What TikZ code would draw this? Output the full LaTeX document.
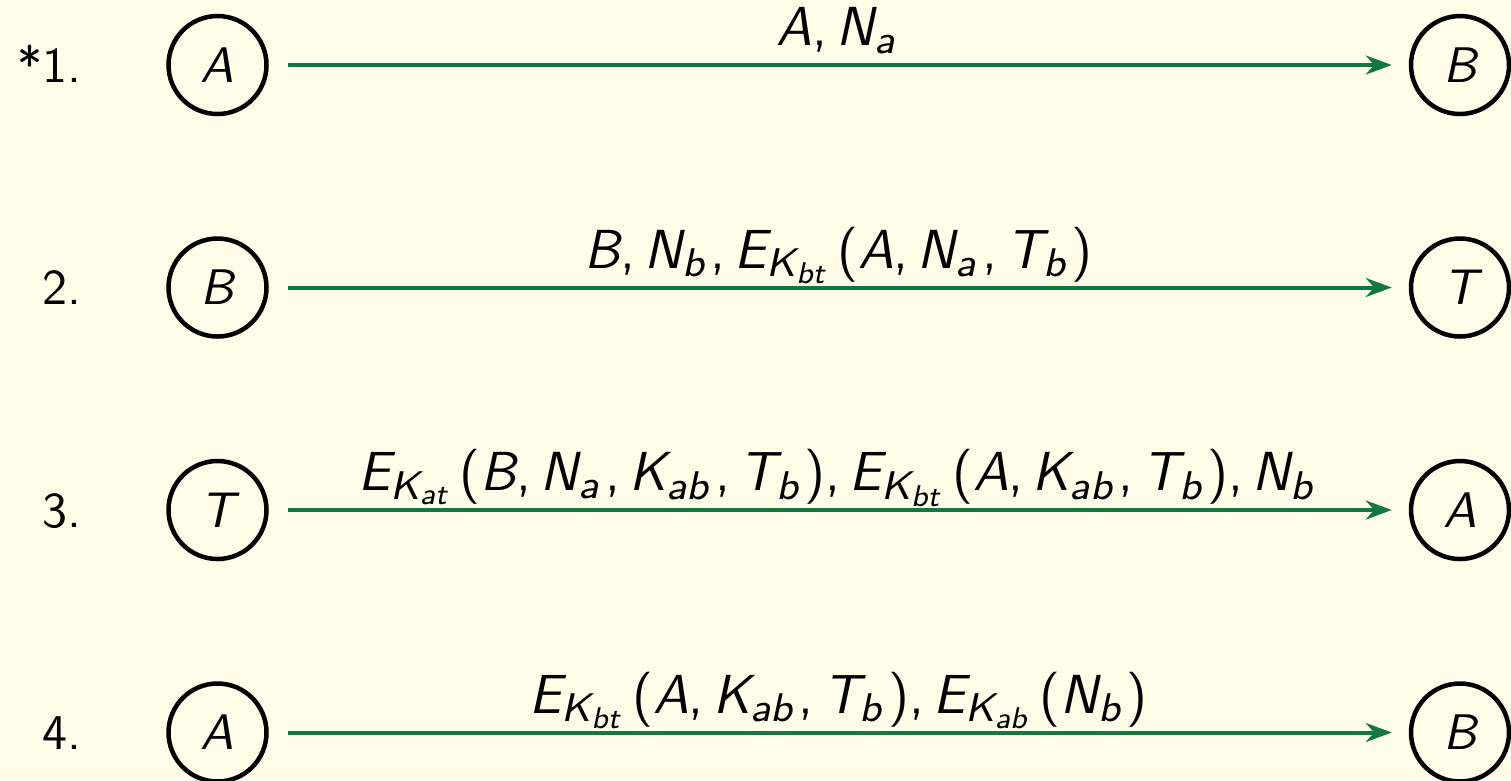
\documentclass[tikz,border=0pt]{standalone}
\usepackage{tikz}
\usetikzlibrary{arrows.meta,positioning}
\definecolor{paper}{HTML}{FFFDE8}
\definecolor{msggreen}{HTML}{12783F}
% sans-serif math, as on a slide
\SetSymbolFont{operators}{normal}{TU}{lmss}{m}{n}
\SetSymbolFont{letters}{normal}{TU}{lmss}{m}{sl}
\DeclareMathSymbol{,}{\mathpunct}{operators}{`,}
\DeclareMathSizes{11}{11}{8}{6}
\scriptspace=1.3pt
\tikzset{
  principal/.style={
    circle, draw=black, line width=0.9pt,
    minimum size=19.6pt, inner sep=0pt,
    font=\sffamily
  },
  msgarrow/.style={
    -{Stealth[length=5.2pt,width=3.8pt]}, thick, color=msggreen,
    shorten <=3.8pt, shorten >=3.4pt
  },
  msglabel/.style={midway, anchor=base, yshift=3.9pt, text=black},
  steplabel/.style={font=\sffamily, inner sep=0pt},
}
\begin{document}
\begin{tikzpicture}[font=\fontsize{11}{13.6}\selectfont]
\fill[paper] (0,0) rectangle (302.2pt,-156pt);
\useasboundingbox (0,0) rectangle (302.2pt,-156pt);
\node[principal] (s1-from) at (43.5pt,-13pt) {$A$};
\node[principal] (s1-to) at (292pt,-13pt) {$B$};
\node[principal] (s2-from) at (43.5pt,-57.5pt) {$B$};
\node[principal] (s2-to) at (292pt,-57.5pt) {$T$};
\node[principal] (s3-from) at (43.5pt,-102pt) {$T$};
\node[principal] (s3-to) at (292pt,-102pt) {$A$};
\node[principal] (s4-from) at (43.5pt,-146.5pt) {$A$};
\node[principal] (s4-to) at (292pt,-146.5pt) {$B$};
\node[steplabel, base left=16.8pt of s1-from] (s1-num) {*1.};
\node[steplabel, base left=16.8pt of s2-from] (s2-num) {2.};
\node[steplabel, base left=16.8pt of s3-from] (s3-num) {3.};
\node[steplabel, base left=16.8pt of s4-from] (s4-num) {4.};
\draw[msgarrow] (s1-from) -- (s1-to)
  node[msglabel] {$A, N_a$};
\draw[msgarrow] (s2-from) -- (s2-to)
  node[msglabel] {$B, N_b, E_{K_{bt}}(A, N_a, T_b)$};
\draw[msgarrow] (s3-from) -- (s3-to)
  node[msglabel] {$E_{K_{at}}(B, N_a, K_{ab}, T_b), E_{K_{bt}}(A, K_{ab}, T_b), N_b$};
\draw[msgarrow] (s4-from) -- (s4-to)
  node[msglabel] {$E_{K_{bt}}(A, K_{ab}, T_b), E_{K_{ab}}(N_b)$};
\end{tikzpicture}
\end{document}
